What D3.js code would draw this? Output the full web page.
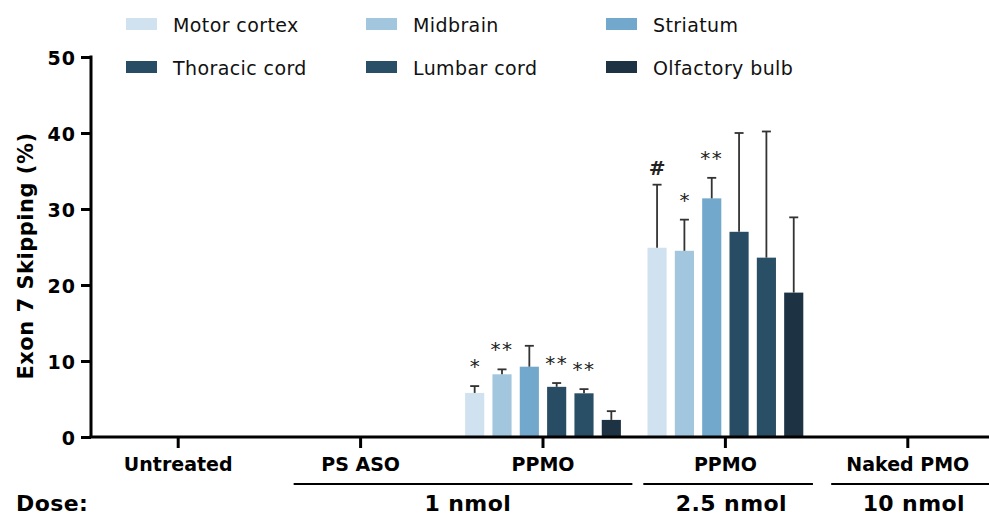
<!DOCTYPE html>
<html>
<head>
<meta charset="utf-8">
<script src="https://cdn.jsdelivr.net/npm/d3@7"></script>
<style>
  html, body { margin: 0; padding: 0; background: #fff; }
  svg { display: block; font-family: "DejaVu Sans", Verdana, sans-serif; }
</style>
</head>
<body>
<svg id="chart" width="989" height="517"></svg>
<script>
// ---- data ----
const categoryKeys   = ["untreated", "psaso", "ppmo1", "ppmo25", "naked"];
const categoryLabels = ["Untreated", "PS ASO", "PPMO", "PPMO", "Naked PMO"];
const seriesNames  = ["Motor cortex", "Midbrain", "Striatum", "Thoracic cord", "Lumbar cord", "Olfactory bulb"];
const seriesColors = ["#d0e2ef", "#a2c6de", "#72a8cc", "#274c63", "#284f66", "#1d3242"];

// mean values per series, across categories
const motorCortex   = [0, 0, 5.8, 24.9, 0];
const midbrain      = [0, 0, 8.25, 24.5, 0];
const striatum      = [0, 0, 9.25, 31.4, 0];
const thoracicCord  = [0, 0, 6.6, 27.0, 0];
const lumbarCord    = [0, 0, 5.75, 23.6, 0];
const olfactoryBulb = [0, 0, 2.25, 19.0, 0];
// upper error (SD) per series, across categories
const motorCortexErr   = [0, 0, 0.9, 8.3, 0];
const midbrainErr      = [0, 0, 0.65, 4.1, 0];
const striatumErr      = [0, 0, 2.75, 2.7, 0];
const thoracicCordErr  = [0, 0, 0.5, 13.0, 0];
const lumbarCordErr    = [0, 0, 0.55, 16.6, 0];
const olfactoryBulbErr = [0, 0, 1.15, 9.9, 0];
// significance marks per category (by series)
const sigPPMO1  = ["*", "**", "", "**", "**", ""];
const sigPPMO25 = ["#", "*", "**", "", "", ""];

const yTicks = [0, 10, 20, 30, 40, 50];
const yTitle = "Exon 7 Skipping (%)";
const doseTitle = "Dose:";
const doseLabels = ["1 nmol", "2.5 nmol", "10 nmol"];
const doseGroups = [["psaso", "ppmo1"], ["ppmo25"], ["naked"]];

const values = [motorCortex, midbrain, striatum, thoracicCord, lumbarCord, olfactoryBulb];
const errors = [motorCortexErr, midbrainErr, striatumErr, thoracicCordErr, lumbarCordErr, olfactoryBulbErr];
const sigs = {ppmo1: sigPPMO1, ppmo25: sigPPMO25};

// ---- layout ----
const svg = d3.select("#chart");
const axisX = 91, axisY = 437, topY = 57;

const x0 = d3.scaleBand().domain(categoryKeys).range([87, 999]);
const x1 = d3.scaleBand().domain(seriesNames).range([-82, 82]).paddingInner(0.3).paddingOuter(0.15);
const y = d3.scaleLinear().domain([0, 50]).range([axisY, topY]);
const cx = k => x0(k) + x0.bandwidth() / 2;

// bars
const rows = [];
categoryKeys.forEach((k, ci) => {
  seriesNames.forEach((s, si) => {
    rows.push({k, s, si, v: values[si][ci], e: errors[si][ci], sig: sigs[k] ? sigs[k][si] : ""});
  });
});

const g = svg.append("g");
g.selectAll("rect.bar").data(rows).join("rect")
  .attr("class", "bar")
  .attr("x", d => cx(d.k) + x1(d.s))
  .attr("width", x1.bandwidth())
  .attr("y", d => y(d.v))
  .attr("height", d => y(0) - y(d.v))
  .attr("fill", d => seriesColors[d.si]);

// error bars
const eb = g.selectAll("g.err").data(rows.filter(d => d.e > 0)).join("g").attr("class", "err")
  .attr("stroke", "#333").attr("stroke-width", 1.8).attr("fill", "none");
eb.append("line")
  .attr("x1", d => cx(d.k) + x1(d.s) + x1.bandwidth() / 2)
  .attr("x2", d => cx(d.k) + x1(d.s) + x1.bandwidth() / 2)
  .attr("y1", d => y(d.v))
  .attr("y2", d => y(d.v + d.e));
eb.append("line")
  .attr("x1", d => cx(d.k) + x1(d.s) + x1.bandwidth() / 2 - 4.5)
  .attr("x2", d => cx(d.k) + x1(d.s) + x1.bandwidth() / 2 + 4.5)
  .attr("y1", d => y(d.v + d.e))
  .attr("y2", d => y(d.v + d.e));

// significance marks
g.selectAll("text.sig").data(rows.filter(d => d.sig)).join("text")
  .attr("class", "sig")
  .attr("x", d => cx(d.k) + x1(d.s) + x1.bandwidth() / 2)
  .attr("y", d => y(d.v + d.e) - (d.sig === "#" ? 10 : 13))
  .attr("text-anchor", "middle")
  .attr("font-size", 20)
  .attr("font-weight", d => d.sig === "#" ? "bold" : "normal")
  .attr("letter-spacing", d => d.sig.length > 1 ? 1.5 : 0)
  .attr("fill", "#222")
  .text(d => d.sig);

// y axis
const yAxis = svg.append("g").attr("transform", `translate(${axisX},0)`)
  .call(d3.axisLeft(y).tickValues(yTicks).tickSize(10).tickPadding(5).tickSizeOuter(0));
yAxis.select(".domain").attr("stroke", "#000").attr("stroke-width", 3)
  .attr("d", `M0,${topY - 1.5}V${axisY}`);
yAxis.selectAll(".tick line").attr("stroke", "#000").attr("stroke-width", 3);
yAxis.selectAll(".tick text").attr("font-size", 19).attr("font-weight", "bold")
  .attr("letter-spacing", 1)
  .attr("font-family", "DejaVu Sans, Verdana, sans-serif").attr("fill", "#000").attr("dy", "0.4em");

// y title
svg.append("text")
  .attr("transform", `translate(26,256) rotate(-90)`)
  .attr("text-anchor", "middle").attr("dominant-baseline", "central")
  .attr("font-size", 21).attr("font-weight", "bold").attr("letter-spacing", 0.5).attr("fill", "#000")
  .text(yTitle);

// x axis
const xAxis = svg.append("g").attr("transform", `translate(0,${axisY})`)
  .call(d3.axisBottom(x0).tickSize(11).tickSizeOuter(0).tickFormat((k, i) => categoryLabels[i]).tickPadding(10));
xAxis.select(".domain").attr("stroke", "#000").attr("stroke-width", 3)
  .attr("d", `M${axisX - 1.5},0H989`);
xAxis.selectAll(".tick line").attr("stroke", "#000").attr("stroke-width", 3);
xAxis.selectAll(".tick text").attr("font-size", 19).attr("font-weight", "bold")
  .attr("font-family", "DejaVu Sans, Verdana, sans-serif").attr("fill", "#000");

// dose groups
const step = x0.step();
const lineOffsets = [[-0.367, 0.49], [-0.45, 0.48], [-0.42, 0.6]];
doseGroups.forEach((grp, i) => {
  const xa = cx(grp[0]) + lineOffsets[i][0] * step;
  const xb = Math.min(989, cx(grp[grp.length - 1]) + lineOffsets[i][1] * step);
  svg.append("line").attr("x1", xa).attr("x2", xb).attr("y1", 484).attr("y2", 484)
    .attr("stroke", "#000").attr("stroke-width", 2);
  const mid = grp.length > 1 ? (cx(grp[0]) + cx(grp[1])) / 2 + 16 : cx(grp[0]) + 6;
  svg.append("text").attr("x", mid).attr("y", 511).attr("text-anchor", "middle")
    .attr("font-size", 22).attr("font-weight", "bold").attr("letter-spacing", 0.4).attr("fill", "#000")
    .text(doseLabels[i]);
});
svg.append("text").attr("x", 16).attr("y", 511)
  .attr("font-size", 22).attr("font-weight", "bold").attr("letter-spacing", 0.4).attr("fill", "#000").text(doseTitle);

// legend
const legend = svg.append("g");
seriesNames.forEach((s, i) => {
  const col = i % 3, row = Math.floor(i / 3);
  const lx = 126 + col * 240, ly = 18 + row * 43;
  legend.append("rect").attr("x", lx).attr("y", ly).attr("width", 31).attr("height", 12)
    .attr("fill", seriesColors[i]);
  legend.append("text").attr("x", lx + 47).attr("y", ly + 14)
    .attr("font-size", 19).attr("letter-spacing", 0.4).attr("fill", "#111").text(s);
});
</script>
</body>
</html>
